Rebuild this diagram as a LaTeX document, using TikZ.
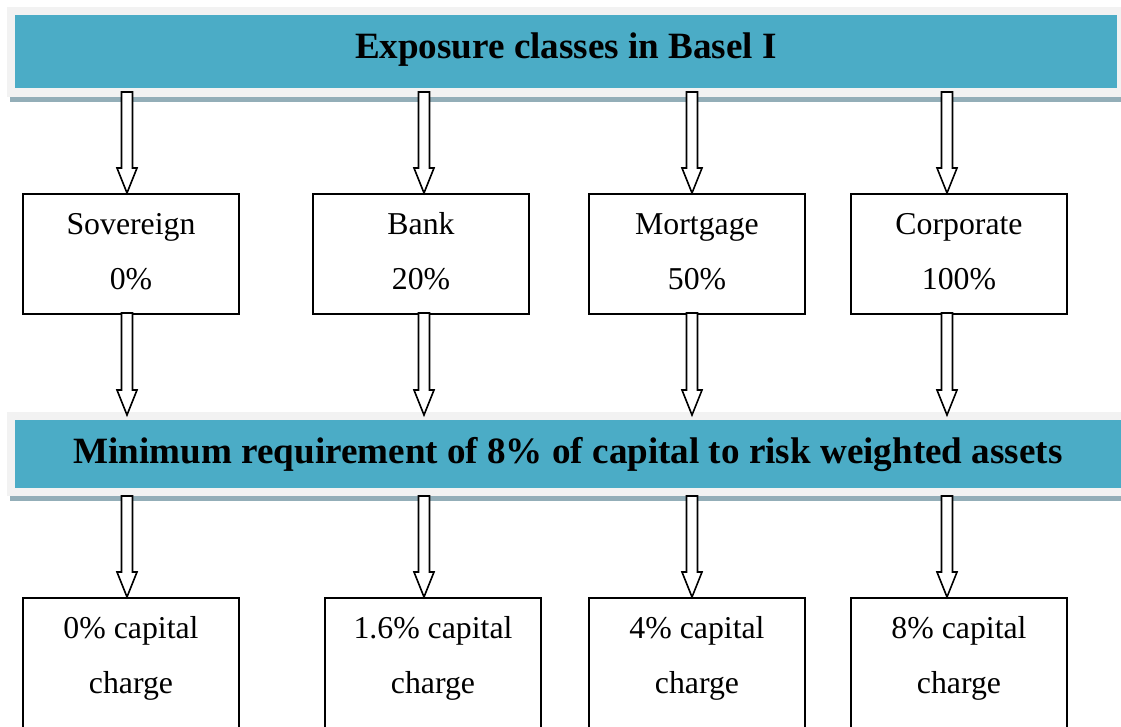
\documentclass[tikz,border=0pt]{standalone}
\usepackage{fontspec}
\setmainfont{Liberation Serif}
\usetikzlibrary{calc}
\definecolor{bannerteal}{HTML}{4BACC6}
\definecolor{palegray}{HTML}{F2F2F2}
\definecolor{shadegray}{HTML}{93AEB8}
\newcommand\blockarrow[2]{\draw[barrow] let \p1=(#1), \p2=(#2) in
  (\x1-5.5pt,\y1) -- (\x1-5.5pt,\y2+25pt) -- (\x1-10pt,\y2+25pt) -- (\x2,\y2)
  -- (\x1+10pt,\y2+25pt) -- (\x1+5.5pt,\y2+25pt) -- (\x1+5.5pt,\y1) -- cycle;}
\newcommand\twolines[3]{\rule{0pt}{41pt}#1\\\rule[-#3pt]{0pt}{#3pt}#2}
\begin{document}
\begin{tikzpicture}[x=1pt,y=-1pt,
  banner/.style={fill=bannerteal, inner xsep=0pt, inner ysep=0pt, anchor=north,
    font=\fontsize{37.1}{44}\selectfont\bfseries, text=black},
  box/.style={draw, line width=1.6pt, minimum width=216pt, inner xsep=0pt, inner ysep=0pt,
    align=center, anchor=north, font=\fontsize{31.8}{55}\selectfont},
  barrow/.style={draw, fill=white, line width=1.6pt, line join=miter}]
\useasboundingbox (0,0) rectangle (1121,726);
\clip (0,0) rectangle (1121,726);
% banner 1
\fill[palegray] (7,7) rectangle (1121,97);
\fill[shadegray] (10,97) rectangle (1121,102);
\node[banner, minimum width=1102pt, text height=43pt, text depth=30pt] (h1) at (566,15)
  {Exposure classes in Basel I};
% banner 2
\fill[palegray] (7,412) rectangle (1121,496);
\fill[shadegray] (10,496) rectangle (1121,501);
\node[banner, minimum width=1106pt, text height=43pt, text depth=25pt] (h2) at (568,420)
  {Minimum requirement of 8\% of capital to risk weighted assets};
% top boxes
\node[box] (s1) at (131,193) {\twolines{Sovereign}{0\%}{24}};
\node[box] (s2) at (421,193) {\twolines{Bank}{20\%}{24}};
\node[box] (s3) at (697,193) {\twolines{Mortgage}{50\%}{24}};
\node[box] (s4) at (959,193) {\twolines{Corporate}{100\%}{24}};
% bottom boxes
\node[box] (b1) at (131,597) {\twolines{0\% capital}{charge}{70}};
\node[box] (b2) at (433,597) {\twolines{1.6\% capital}{charge}{70}};
\node[box] (b3) at (697,597) {\twolines{4\% capital}{charge}{70}};
\node[box] (b4) at (959,597) {\twolines{8\% capital}{charge}{70}};
% arrow end points
\foreach \i/\x in {1/127,2/424,3/692,4/947}{
  \coordinate (p\i) at (\x,92);
  \coordinate (q\i) at (\x,193);
  \coordinate (r\i) at (\x,313);
  \coordinate (u\i) at (\x,415);
  \coordinate (v\i) at (\x,496);
  \coordinate (w\i) at (\x,597);
}
\foreach \i in {1,2,3,4}{
  \blockarrow{p\i}{q\i}
  \blockarrow{r\i}{u\i}
  \blockarrow{v\i}{w\i}
}
\end{tikzpicture}
\end{document}
